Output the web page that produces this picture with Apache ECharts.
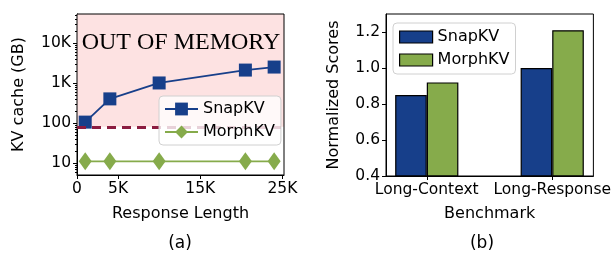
<!DOCTYPE html>
<html>
<head>
<meta charset="utf-8">
<script src="https://cdn.jsdelivr.net/npm/echarts@6/dist/echarts.min.js"></script>
<style>
  html, body { margin: 0; padding: 0; background: #fff; }
  #chart { width: 614px; height: 253px; }
</style>
</head>
<body>
<div id="chart"></div>
<script>
// (a) KV cache size vs response length
var respLen = [1000, 4000, 10000, 20500, 24000];
var snapKvCache = [105, 400, 1000, 2100, 2500];
var morphKvCache = [11, 11, 11, 11, 11];
var gpuMemory = 80;
var xTicksA = [0, 5000, 15000, 25000];
var minorTicksA = [6, 7, 8, 9, 20, 30, 40, 50, 60, 70, 80, 90, 200, 300, 400, 500, 600, 700, 800, 900,
  2000, 3000, 4000, 5000, 6000, 7000, 8000, 9000, 20000, 30000, 40000, 50000];

// (b) normalized scores per benchmark
var benchmarks = ['Long-Context', 'Long-Response'];
var snapKvScore = [0.85, 1.00];
var morphKvScore = [0.92, 1.21];

var navy = '#173f8a';
var green = '#86ab4b';
var font = 'DejaVu Sans';

function kFmt(v) {
  if (v === 0) return '0';
  return (v / 1000) + 'K';
}
function logFmt(v) {
  var r = Math.round(v);
  if (r === 10) return '10';
  if (r === 100) return '100';
  if (r === 1000) return '1K';
  if (r === 10000) return '10K';
  return '';
}

var myChart = echarts.init(document.getElementById('chart'));
var option = {
  animation: false,
  textStyle: { fontFamily: font, color: '#000' },
  grid: [
    { left: 77, top: 14, width: 207, height: 161, show: true, borderColor: '#000', borderWidth: 1, z: 5 },
    { left: 386, top: 14, width: 208, height: 162, show: true, borderColor: '#000', borderWidth: 1, z: 5 }
  ],
  xAxis: [
    {
      gridIndex: 0, type: 'value', min: 0, max: 25200,
      name: 'Response Length', nameLocation: 'middle', nameGap: 31,
      nameTextStyle: { fontSize: 16, color: '#000' },
      axisLine: { show: true, onZero: false, lineStyle: { color: '#000' } },
      axisTick: { show: true, length: 4, lineStyle: { color: '#000' }, customValues: xTicksA },
      axisLabel: { fontSize: 15.5, color: '#000', margin: 6, formatter: kFmt, customValues: xTicksA },
      splitLine: { show: false }
    },
    {
      gridIndex: 1, type: 'value', min: -0.325, max: 1.328,
      name: 'Benchmark', nameLocation: 'middle', nameGap: 30,
      nameTextStyle: { fontSize: 16, color: '#000' },
      axisLine: { show: true, onZero: false, lineStyle: { color: '#000' } },
      axisTick: { show: true, length: 4, lineStyle: { color: '#000' }, customValues: [0, 1] },
      axisLabel: {
        fontSize: 15.5, color: '#000', margin: 6, customValues: [0, 1],
        formatter: function (v) { return benchmarks[Math.round(v)]; }
      },
      splitLine: { show: false }
    }
  ],
  yAxis: [
    {
      gridIndex: 0, type: 'log', min: 5, max: 53000, position: 'left',
      name: 'KV cache (GB)', nameLocation: 'middle', nameGap: 50,
      nameTextStyle: { fontSize: 16, color: '#000' },
      axisLine: { show: true, onZero: false, lineStyle: { color: '#000' } },
      axisTick: { show: true, length: 4, lineStyle: { color: '#000' }, customValues: [10, 100, 1000, 10000] },
      axisLabel: { fontSize: 15.5, color: '#000', margin: 6, formatter: logFmt, customValues: [10, 100, 1000, 10000] },
      splitLine: { show: false }
    },
    {
      gridIndex: 0, type: 'log', min: 5, max: 53000, position: 'left',
      axisLine: { show: false, onZero: false },
      axisTick: { show: true, length: 2, lineStyle: { color: '#000' }, customValues: minorTicksA },
      axisLabel: { show: false },
      splitLine: { show: false }
    },
    {
      gridIndex: 1, type: 'value', min: 0.4, max: 1.3, interval: 0.2, position: 'left',
      name: 'Normalized Scores', nameLocation: 'middle', nameGap: 44,
      nameTextStyle: { fontSize: 16, color: '#000' },
      axisLine: { show: true, onZero: false, lineStyle: { color: '#000' } },
      axisTick: { show: true, length: 4, lineStyle: { color: '#000' } },
      axisLabel: {
        fontSize: 15.5, color: '#000', margin: 6, showMaxLabel: false,
        formatter: function (v) { return v.toFixed(1); }
      },
      splitLine: { show: false }
    }
  ],
  legend: [
    {
      data: ['SnapKV', 'MorphKV'],
      seriesIndex: [0, 1],
      left: 159, top: 96, orient: 'vertical', itemGap: 7,
      itemWidth: 33, itemHeight: 16,
      padding: [5, 6, 5, 5],
      backgroundColor: 'rgba(255,255,255,0.8)',
      borderColor: '#d0d0d0', borderWidth: 1, borderRadius: 4,
      textStyle: { fontSize: 16, color: '#000', fontFamily: font },
      z: 20
    },
    {
      data: ['SnapKV', 'MorphKV'],
      seriesIndex: [2, 3],
      left: 393, top: 23, orient: 'vertical', itemGap: 7,
      itemWidth: 33, itemHeight: 12, icon: 'rect',
      padding: [6, 6, 6, 6],
      backgroundColor: 'rgba(255,255,255,0.8)',
      borderColor: '#d0d0d0', borderWidth: 1, borderRadius: 4,
      itemStyle: { borderColor: '#000', borderWidth: 1.2 },
      textStyle: { fontSize: 16, color: '#000', fontFamily: font },
      z: 20
    }
  ],
  graphic: [
    {
      type: 'text', x: 181, y: 43, z: 4,
      style: { text: 'OUT OF MEMORY', align: 'center', verticalAlign: 'middle',
        font: '24px "Liberation Serif"', fill: '#000' }
    },
    {
      type: 'text', x: 180, y: 244,
      style: { text: '(a)', align: 'center', verticalAlign: 'middle',
        font: '17px "DejaVu Sans"', fill: '#000' }
    },
    {
      type: 'text', x: 482, y: 244,
      style: { text: '(b)', align: 'center', verticalAlign: 'middle',
        font: '17px "DejaVu Sans"', fill: '#000' }
    }
  ],
  series: [
    {
      name: 'SnapKV', type: 'line', xAxisIndex: 0, yAxisIndex: 0,
      data: respLen.map(function (x, i) { return [x, snapKvCache[i]]; }),
      symbol: 'rect', symbolSize: 13,
      lineStyle: { color: navy, width: 1.8 },
      itemStyle: { color: navy },
      z: 3,
      markArea: {
        silent: true,
        itemStyle: { color: '#fde2e2' },
        data: [[{ yAxis: gpuMemory }, { yAxis: 53000 }]]
      },
      markLine: {
        silent: true, symbol: 'none',
        label: { show: false },
        lineStyle: { color: '#8b1c40', width: 3, type: [9, 6] },
        data: [{ yAxis: gpuMemory }]
      }
    },
    {
      name: 'MorphKV', type: 'line', xAxisIndex: 0, yAxisIndex: 0,
      data: respLen.map(function (x, i) { return [x, morphKvCache[i]]; }),
      symbol: 'diamond', symbolSize: [13, 18],
      lineStyle: { color: green, width: 1.8 },
      itemStyle: { color: green },
      z: 3
    },
    {
      name: 'SnapKV', type: 'bar', xAxisIndex: 1, yAxisIndex: 2,
      data: snapKvScore.map(function (v, i) { return [i, v]; }),
      barWidth: 31.6, barGap: '0%',
      itemStyle: { color: navy, borderColor: '#000', borderWidth: 1.2 }
    },
    {
      name: 'MorphKV', type: 'bar', xAxisIndex: 1, yAxisIndex: 2,
      data: morphKvScore.map(function (v, i) { return [i, v]; }),
      barWidth: 31.6, barGap: '0%',
      itemStyle: { color: green, borderColor: '#000', borderWidth: 1.2 }
    }
  ]
};
myChart.setOption(option);
</script>
</body>
</html>
